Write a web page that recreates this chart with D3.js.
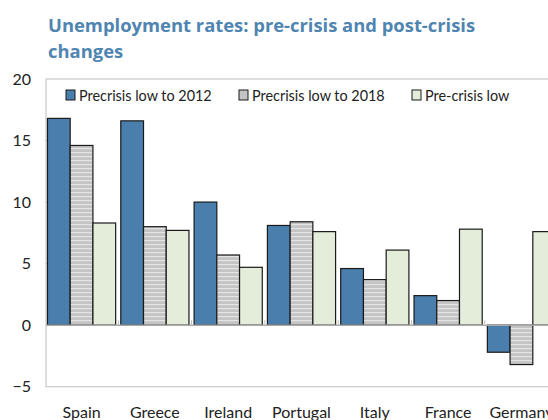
<!DOCTYPE html>
<html>
<head>
<meta charset="utf-8">
<script src="https://cdn.jsdelivr.net/npm/d3@7"></script>
<style>
  body { margin:0; background:#fff; }
  svg { display:block; font-family:Lato, "Open Sans", sans-serif; }
</style>
</head>
<body>
<svg></svg>
<script>

var countries = ["Spain","Greece","Ireland","Portugal","Italy","France","Germany"];
var seriesNames = ["Precrisis low to 2012","Precrisis low to 2018","Pre-crisis low"];
var to2012 = [16.8, 16.6, 10.0, 8.1, 4.6, 2.4, -2.2];
var to2018 = [14.6, 8.0, 5.7, 8.4, 3.7, 2.0, -3.2];
var preLow = [8.3, 7.7, 4.7, 7.6, 6.1, 7.8, 7.6];
var yTicks = [-5, 0, 5, 10, 15, 20];

var screen = {width:548, height:420};
var margins = {top:79, left:46, bottom:33};

var svg = d3.select("svg").attr("width",screen.width).attr("height",screen.height);

// title
var titleFont = "\"Open Sans\", sans-serif";
svg.append("text").attr("x",48).attr("y",32)
  .attr("font-family",titleFont)
  .attr("font-size",18.4).attr("font-weight","bold").attr("fill","#4f85b1")
  .text("Unemployment rates: pre-crisis and post-crisis");
svg.append("text").attr("x",48).attr("y",58)
  .attr("font-family",titleFont)
  .attr("font-size",18.4).attr("font-weight","bold").attr("fill","#4f85b1")
  .text("changes");

// stripes for the 2018 bars
var defs = svg.append("defs");
var pat = defs.append("pattern").attr("id","stripes")
  .attr("patternUnits","userSpaceOnUse").attr("width",8).attr("height",4);
pat.append("rect").attr("width",8).attr("height",4).attr("fill","#c4c4c4");
pat.append("rect").attr("y",0).attr("width",8).attr("height",1.2).attr("fill","#e4e4e4");

var yScale = d3.scaleLinear()
  .domain([-5,20])
  .range([screen.height - margins.bottom - 0.3, margins.top]);

var xScale = d3.scaleBand()
  .domain(countries)
  .range([margins.left, margins.left + 73*countries.length])
  .paddingInner(0.07).paddingOuter(0.02);

var xSub = d3.scaleBand()
  .domain(d3.range(3))
  .range([0, xScale.bandwidth()]);

// frame
svg.append("rect")
  .attr("x",margins.left).attr("y",yScale(20))
  .attr("width",screen.width).attr("height",yScale(-5)-yScale(20))
  .attr("fill","none").attr("stroke","#c8c8c8").attr("stroke-width",1.2);

// y axis labels
var yAxis = d3.axisLeft(yScale).tickValues(yTicks).tickSize(0).tickPadding(15);
var ya = svg.append("g").attr("transform","translate("+margins.left+",0)").call(yAxis);
ya.select(".domain").remove();
ya.selectAll("text").attr("font-size",16).attr("fill","#222").attr("font-family","Lato, sans-serif");
// tiny inward ticks
svg.selectAll(".ytick").data([5,10,15]).enter().append("line")
  .attr("x1",margins.left).attr("x2",margins.left+4)
  .attr("y1",function(d){return yScale(d);}).attr("y2",function(d){return yScale(d);})
  .attr("stroke","#b0b0b0");

// bars
var fills = ["#4a7eac","url(#stripes)","#e4edda"];
var groups = svg.selectAll(".grp").data(countries).enter().append("g")
  .attr("transform",function(d){return "translate("+xScale(d)+",0)";});

groups.selectAll("rect")
  .data(function(d,i){return [to2012[i], to2018[i], preLow[i]];})
  .enter().append("rect")
  .attr("x",function(d,j){return xSub(j);})
  .attr("width",xSub.bandwidth())
  .attr("y",function(d){return yScale(Math.max(0,d));})
  .attr("height",function(d){return Math.abs(yScale(d)-yScale(0));})
  .attr("fill",function(d,j){return fills[j];})
  .attr("stroke","#1a1a1a").attr("stroke-width",1.2);

// zero line with small category ticks
svg.append("line")
  .attr("x1",margins.left).attr("x2",screen.width)
  .attr("y1",yScale(0)).attr("y2",yScale(0))
  .attr("stroke","#a8a8a8").attr("stroke-width",1.5);
svg.selectAll(".ctick").data(countries.slice(1)).enter().append("line")
  .attr("x1",function(d){return xScale(d) - xScale.step()*xScale.paddingInner()/2;})
  .attr("x2",function(d){return xScale(d) - xScale.step()*xScale.paddingInner()/2;})
  .attr("y1",yScale(0)).attr("y2",yScale(0)-5)
  .attr("stroke","#c0c0c0");

// category labels
svg.selectAll(".clab").data(countries).enter().append("text")
  .attr("x",function(d){return xScale(d)+xScale.bandwidth()/2;})
  .attr("y",418)
  .attr("text-anchor","middle").attr("font-size",16).attr("fill","#222")
  .text(function(d){return d;});

// legend
var legX = [66, 239, 412];
var leg = svg.selectAll(".leg").data(seriesNames).enter().append("g")
  .attr("transform",function(d,i){return "translate("+legX[i]+",90)";});
leg.append("rect").attr("width",9).attr("height",10)
  .attr("fill",function(d,i){return i==1 ? "#c4c4c4" : fills[i];})
  .attr("stroke","#1a1a1a").attr("stroke-width",1);
leg.append("text").attr("x",13).attr("y",11)
  .attr("font-size",14.4).attr("fill","#222")
  .text(function(d){return d;});

</script>
</body>
</html>
